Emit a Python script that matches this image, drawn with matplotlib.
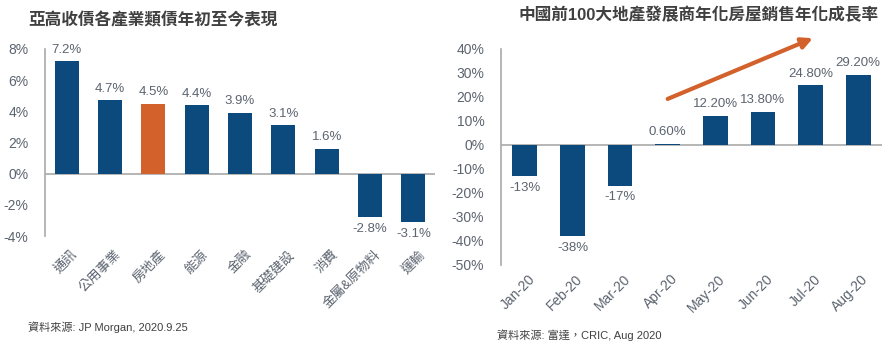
import matplotlib
matplotlib.use('Agg')
import matplotlib.pyplot as plt
import matplotlib.transforms as mtransforms
import numpy as np

plt.rcParams['font.family'] = ['Liberation Sans', 'Noto Sans CJK TC', 'DejaVu Sans']

# 亞高收債各產業類債年初至今表現 (%)
sectors = ['通訊', '公用事業', '房地產', '能源', '金融', '基礎建設', '消費', '金屬&原物料', '運輸']
sector_ret = [7.2, 4.7, 4.5, 4.4, 3.9, 3.1, 1.6, -2.8, -3.1]
sector_lbl = ['7.2%', '4.7%', '4.5%', '4.4%', '3.9%', '3.1%', '1.6%', '-2.8%', '-3.1%']
left_ticks = [-4, -2, 0, 2, 4, 6, 8]

# 前100大地產發展商年化銷售成長率 (%)
months = ['Jan-20', 'Feb-20', 'Mar-20', 'Apr-20', 'May-20', 'Jun-20', 'Jul-20', 'Aug-20']
sales_yoy = [-13, -38, -17, 0.6, 12.2, 13.8, 24.8, 29.2]
sales_lbl = ['-13%', '-38%', '-17%', '0.60%', '12.20%', '13.80%', '24.80%', '29.20%']
right_ticks = [-50, -40, -30, -20, -10, 0, 10, 20, 30, 40]

BLUE = '#0c4a7d'
ORANGE = '#d2612b'
GREY = '#5c6470'
AXIS = '#a9a9a9'

fig = plt.figure(figsize=(8.9, 3.44), dpi=100)


def style(ax, ticks):
    for s in ['top', 'right', 'bottom']:
        ax.spines[s].set_visible(False)
    ax.spines['left'].set_color(AXIS)
    ax.spines['left'].set_linewidth(1.2)
    ax.axhline(0, color=AXIS, lw=1.2, zorder=1)
    ax.set_yticks(ticks)
    ax.set_yticklabels([f'{t}%' for t in ticks])
    ax.tick_params(axis='both', length=0, labelsize=10, labelcolor=GREY)
    ax.tick_params(axis='y', pad=12)


def slanted_xlabels(ax, labels, size, pad, shift_px):
    ax.set_xticks(np.arange(len(labels)))
    ax.set_xticklabels(labels, rotation=45, ha='right', rotation_mode='anchor',
                       fontsize=size)
    ax.tick_params(axis='x', pad=pad)
    off = mtransforms.ScaledTranslation(shift_px / 100, 0, fig.dpi_scale_trans)
    for lab in ax.get_xticklabels():
        lab.set_transform(lab.get_transform() + off)


def value_labels(ax, vals, labels):
    for i, (v, t) in enumerate(zip(vals, labels)):
        ax.annotate(t, (i, v), xytext=(0, 4 if v >= 0 else -4),
                    textcoords='offset points', ha='center',
                    va='bottom' if v >= 0 else 'top',
                    fontsize=9.5, color=GREY)


# left chart
ax1 = fig.add_axes([45 / 890, 108 / 344, 390 / 890, 187 / 344])
x1 = np.arange(len(sectors))
cols = [ORANGE if s == '房地產' else BLUE for s in sectors]
ax1.bar(x1, sector_ret, width=0.56, color=cols, zorder=2)
ax1.set_xlim(-0.5, len(sectors) - 0.5)
ax1.set_ylim(-4, 8)
style(ax1, left_ticks)
slanted_xlabels(ax1, sectors, 9.5, 9, 5)
value_labels(ax1, sector_ret, sector_lbl)

# right chart
ax2 = fig.add_axes([501 / 890, 79 / 344, 381 / 890, 216 / 344])
x2 = np.arange(len(months))
ax2.bar(x2, sales_yoy, width=0.52, color=BLUE, zorder=2)
ax2.set_xlim(-0.5, len(months) - 0.5)
ax2.set_ylim(-50, 40)
style(ax2, right_ticks)
slanted_xlabels(ax2, months, 10, 5, 3)
value_labels(ax2, sales_yoy, sales_lbl)
ax2.annotate('', xy=(6.05, 44.5), xytext=(3.0, 19.2),
             arrowprops=dict(arrowstyle='-|>', color=ORANGE, lw=3,
                             mutation_scale=16, shrinkA=0, shrinkB=0),
             annotation_clip=False)

# titles and sources
fig.text(28 / 890, 0.942, '亞高收債各產業類債年初至今表現', fontsize=12,
         fontweight='bold', color='#404040', va='center')
fig.text(518 / 890, 0.956, '中國前100大地產發展商年化房屋銷售年化成長率', fontsize=12,
         fontweight='bold', color='#404040', va='center')
fig.text(28 / 890, 0.049, '資料來源: JP Morgan, 2020.9.25', fontsize=8,
         color='#404040', va='center')
fig.text(497 / 890, 0.026, '資料來源: 富達，CRIC, Aug 2020', fontsize=8,
         color='#404040', va='center')

fig.savefig('out.png', dpi=100, facecolor='white')
